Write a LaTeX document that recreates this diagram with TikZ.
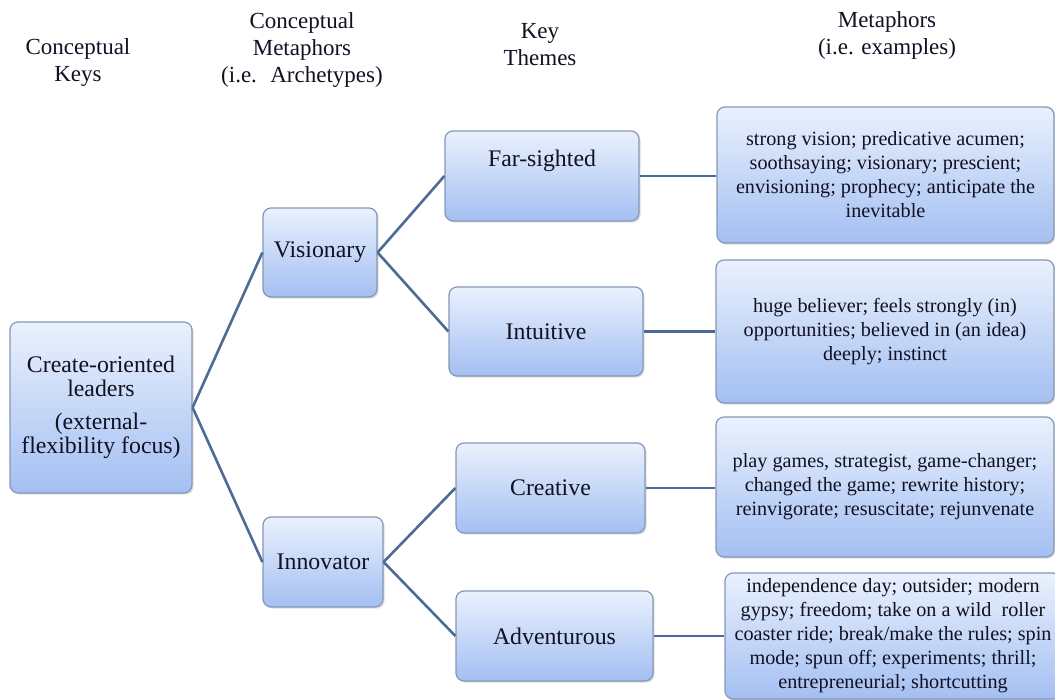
\documentclass[tikz,border=0pt]{standalone}
\usepackage{fontspec}
\setmainfont{Liberation Serif}
\usetikzlibrary{shadows}
\definecolor{boxtop}{HTML}{EAF1FD}
\definecolor{boxbot}{HTML}{A3BFF2}
\definecolor{boxline}{HTML}{8697B6}
\definecolor{linkcol}{HTML}{4E6B97}
\definecolor{ink}{HTML}{111122}
\newcommand{\boxfont}{\rmfamily\fontsize{11.9}{11.8}\selectfont}
\newcommand{\exfont}{\rmfamily\fontsize{10.1}{12}\selectfont}
\tikzset{
	theme/.style={draw=boxline, line width=0.6pt, rounded corners=4pt,
		top color=boxtop, bottom color=boxbot, text=ink,
		drop shadow={opacity=0.25, shadow xshift=0.8pt, shadow yshift=-0.8pt},
		align=center, inner sep=0pt, font=\boxfont},
	example/.style={theme, font=\exfont},
	head/.style={align=center, text=ink, font=\rmfamily\fontsize{11.5}{13.5}\selectfont},
	link/.style={draw=linkcol, line width=1.3pt},
}

\begin{document}
\begin{tikzpicture}[x=0.5pt, y=-0.5pt]
	\path[use as bounding box, fill=white] (0,0) rectangle (1055,700);
	
	\node[head] (h1) at (78,63) {Conceptual\\Keys};
	\node[head] (h2) at (302,50) {Conceptual\\Metaphors\\(i.e.~ Archetypes)};
	\node[head] (h3) at (540,45) {Key\\Themes};
	\node[head] (h4) at (887,35) {Metaphors\\(i.e. examples)};
	
	\node[theme, minimum width=91pt, minimum height=85.5pt] (key) at (101,407.5)
		{Create-oriented\\leaders\\[5pt](external-\\flexibility focus)};
	
	\node[theme, minimum width=57pt, minimum height=44.5pt] (vis) at (320,252.5) {Visionary};
	\node[theme, minimum width=60pt, minimum height=45pt] (inn) at (323,562) {Innovator};
	
	\node[theme, minimum width=97pt, minimum height=45pt, text depth=18pt] (far) at (542,176) {Far-sighted};
	\node[theme, minimum width=97pt, minimum height=44.5pt] (intu) at (546,331.5) {Intuitive};
	\node[theme, minimum width=94.5pt, minimum height=45pt] (crea) at (550.5,488) {Creative};
	\node[theme, minimum width=98.5pt, minimum height=45pt] (adv) at (554.5,636) {Adventurous};
	
	\node[example, minimum width=168.5pt, minimum height=68pt] (m1) at (885.5,175)
		{strong vision; predicative acumen;\\soothsaying; visionary; prescient;\\envisioning; prophecy; anticipate the\\inevitable};
	\node[example, minimum width=169pt, minimum height=71.5pt] (m2) at (885,331.5)
		{huge believer; feels strongly (in)\\opportunities; believed in (an idea)\\deeply; instinct};
	\node[example, minimum width=169pt, minimum height=70pt] (m3) at (885,487)
		{play games, strategist, game-changer;\\changed the game; rewrite history;\\reinvigorate; resuscitate; rejunvenate};
	\node[example, minimum width=168pt, minimum height=63pt] (m4) at (893,636)
		{independence day; outsider; modern\\gypsy; freedom; take on a wild~ roller\\coaster ride; break/make the rules; spin\\mode; spun off; experiments; thrill;\\entrepreneurial; shortcutting};
	
	\draw[link] (key.east) -- (vis.west);
	\draw[link] (key.east) -- (inn.west);
	\draw[link] (vis.east) -- (far.west);
	\draw[link] (vis.east) -- (intu.west);
	\draw[link] (inn.east) -- (crea.west);
	\draw[link] (inn.east) -- (adv.west);
	\draw[link] (far.east) -- (far.east -| m1.west);
	\draw[link] (intu.east) -- (intu.east -| m2.west);
	\draw[link] (crea.east) -- (crea.east -| m3.west);
	\draw[link] (adv.east) -- (adv.east -| m4.west);
\end{tikzpicture}
\end{document}
